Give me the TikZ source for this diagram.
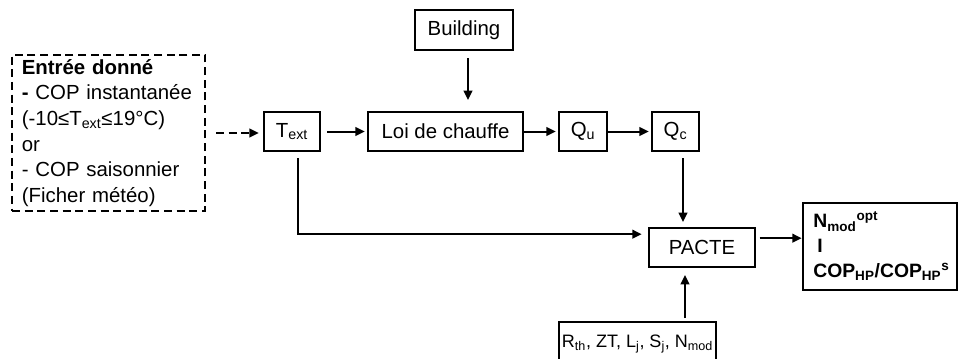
\documentclass[tikz,border=0pt]{standalone}
\usepackage{fontspec}
\setmainfont{Liberation Sans}
\usetikzlibrary{arrows.meta}

\begin{document}
\begin{tikzpicture}[x=0.75pt,y=-0.75pt,>={Triangle[length=7pt,width=6.5pt]},
    font=\fontsize{15.3}{19.3}\selectfont,
    block/.style={draw,line width=2pt,inner sep=0pt,minimum height=29.25pt},
    flow/.style={->,line width=1.5pt}]
   \useasboundingbox (0,0) rectangle (959,358);
   \clip (0,0) rectangle (959,358);
   \node[draw,dashed,dash pattern=on 6pt off 3.5pt,line width=1.5pt,minimum width=144.75pt,minimum height=112.5pt,
         text width=130pt,inner xsep=7pt,align=left] (donnee) at (108.5,133)
      {\textbf{Entrée donné}\\\textbf{-} COP instantanée\\(-10≤T\textsubscript{ext}≤19°C)\\or\\- COP saisonnier\\(Ficher météo)};
   \node[block,minimum width=42pt]     (t_ext)    at (292,131.5)   {T\textsubscript{ext}};
   \node[block,minimum width=116.25pt] (loi)      at (445.5,131.5) {Loi de chauffe};
   \node[block,minimum width=73.5pt,minimum height=30pt] (building) at (464,30) {Building};
   \node[block,minimum width=36pt]     (q_u)      at (583,131.5)   {Q\textsubscript{u}};
   \node[block,minimum width=35.25pt]  (q_c)      at (675.5,131.5) {Q\textsubscript{c}};
   \node[block,minimum width=79.5pt]   (pacte)    at (702,247.5)   {PACTE};
   \node[block,minimum width=115.5pt,minimum height=65.25pt,text width=100pt,inner xsep=7.5pt,align=left,
         font=\bfseries\fontsize{14.5}{18.75}\selectfont] (res) at (880,246.5)
      {N\textsubscript{mod}\textsuperscript{opt}\\\hspace*{3pt}I\\COP\textsubscript{HP}/COP\textsubscript{HP}\textsuperscript{s}};
   \node[block,minimum width=117.75pt,minimum height=33pt,font=\fontsize{13.5}{16}\selectfont] (param) at (637.5,344)
      {R\textsubscript{th}, ZT, L\textsubscript{j}, S\textsubscript{j}, N\textsubscript{mod}};
   \draw[flow,dash pattern=on 6pt off 3.5pt,shorten <=7.5pt,shorten >=3pt] (donnee.east) -- (t_ext.west |- donnee.east);
   \draw[flow,shorten <=4.5pt,shorten >=1.5pt] (t_ext) -- (loi);
   \draw[flow,shorten >=1.5pt] (loi) -- (q_u);
   \draw[flow,shorten >=1.5pt] (q_u) -- (q_c);
   \draw[flow,shorten <=5pt,shorten >=8pt] ([xshift=3pt]building.south) -- ([xshift=3pt]building.south |- loi.north);
   \draw[flow,shorten <=4.5pt,shorten >=3.5pt] ([xshift=5.6pt]q_c.south) -- ([xshift=5.6pt]q_c.south |- pacte.north);
   \draw[flow,shorten <=4.5pt,shorten >=4.5pt] ([xshift=4.5pt]t_ext.south) |- ([yshift=10pt]pacte.west);
   \draw[flow,shorten <=2.5pt] ([yshift=7pt]pacte.east) -- ([yshift=7pt]pacte.east -| res.west);
   \draw[flow,shorten <=2pt,shorten >=5pt] ([xshift=35.6pt]param.north) -- ([xshift=35.6pt]param.north |- pacte.south);
\end{tikzpicture}
\end{document}
